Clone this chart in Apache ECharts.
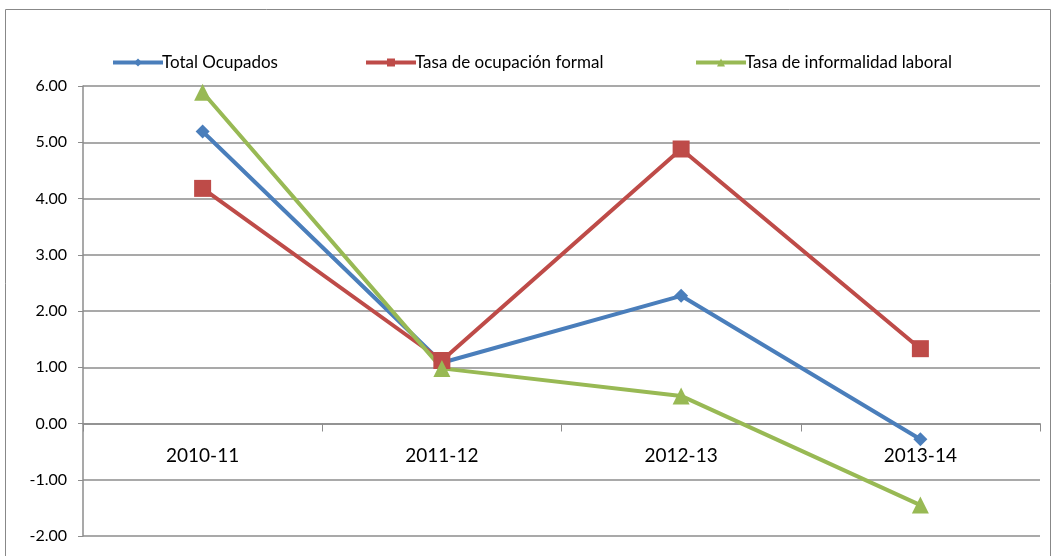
<!DOCTYPE html>
<html>
<head>
<meta charset="utf-8">
<script src="https://cdn.jsdelivr.net/npm/echarts@6/dist/echarts.min.js"></script>
<style>
	html, body { margin: 0; padding: 0; background: #fff; }
	#chart { width: 1052px; height: 556px; }
</style>
</head>
<body>
<div id="chart"></div>
<script>
	"use strict";

	var categories = ['2010-11', '2011-12', '2012-13', '2013-14'];
	var totalOcupados = [5.19, 1.08, 2.27, -0.28];
	var tasaFormal = [4.18, 1.12, 4.88, 1.33];
	var tasaInformal = [5.89, 0.98, 0.49, -1.45];
	var seriesNames = ['Total Ocupados', 'Tasa de ocupación formal', 'Tasa de informalidad laboral'];

	var FONT = 'Lato, "DejaVu Sans Condensed", sans-serif';
	var GRID = '#8c8c8c';

	var chart = echarts.init(document.getElementById('chart'));

	function legendAt(name, left) {
		return {
			data: [name],
			top: 49,
			left: left,
			itemWidth: 50,
			itemHeight: 10,
			lineStyle: { width: 4 },
			textStyle: { fontFamily: FONT, fontSize: 17, color: '#000', padding: [0, 0, 0, -6] }
		};
	}

	chart.setOption({
		animation: false,
		graphic: [{
			type: 'rect',
			shape: { x: 5.5, y: 9.5, width: 1045, height: 560 },
			style: { fill: 'none', stroke: '#888', lineWidth: 1 },
			silent: true
		}],
		legend: [
			legendAt(seriesNames[0], 106),
			legendAt(seriesNames[1], 359),
			legendAt(seriesNames[2], 689)
		],
		grid: { left: 83, right: 12, top: 86, bottom: 20, outerBoundsMode: 'none' },
		xAxis: [{
			type: 'category',
			data: categories,
			boundaryGap: true,
			axisLine: { onZero: true, lineStyle: { color: GRID, width: 1.5 } },
			axisTick: { show: true, length: 8, lineStyle: { color: GRID } },
			axisLabel: { show: false }
		}, {
			// label-only axis, shifted up to sit just under the zero line
			type: 'category',
			data: categories,
			position: 'bottom',
			offset: -113,
			axisLine: { show: false },
			axisTick: { show: false },
			axisLabel: { margin: 23, fontFamily: FONT, fontSize: 19, color: '#000' }
		}],
		yAxis: {
			type: 'value',
			min: -2,
			max: 6,
			interval: 1,
			axisLine: { show: true, lineStyle: { color: GRID, width: 1.5 } },
			axisTick: { show: true, length: 5, lineStyle: { color: GRID } },
			splitLine: { lineStyle: { color: GRID, width: 1.5 } },
			axisLabel: {
				margin: 16,
				fontFamily: FONT,
				fontSize: 16,
				color: '#000',
				formatter: function(v) { return v.toFixed(2); }
			}
		},
		series: [{
			name: seriesNames[0],
			type: 'line',
			data: totalOcupados,
			symbol: 'diamond',
			symbolSize: 14,
			lineStyle: { width: 4, color: '#4a7ebb' },
			itemStyle: { color: '#4a7ebb' }
		}, {
			name: seriesNames[1],
			type: 'line',
			data: tasaFormal,
			symbol: 'rect',
			symbolSize: 17,
			lineStyle: { width: 4, color: '#be4b48' },
			itemStyle: { color: '#be4b48' }
		}, {
			name: seriesNames[2],
			type: 'line',
			data: tasaInformal,
			symbol: 'triangle',
			symbolSize: 17,
			lineStyle: { width: 4, color: '#98b954' },
			itemStyle: { color: '#98b954' }
		}]
	});
</script>
</body>
</html>
